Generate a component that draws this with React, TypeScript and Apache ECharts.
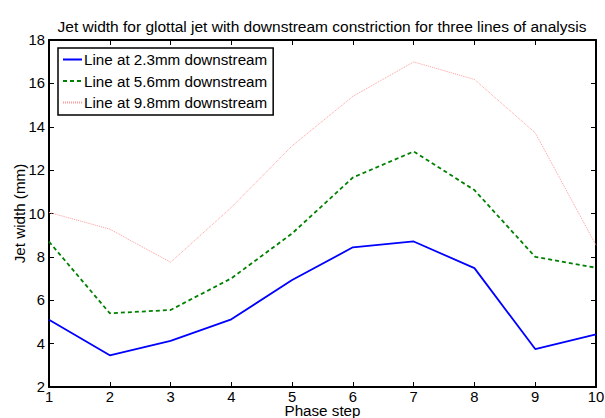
import React, { useEffect, useRef } from "react";
import * as echarts from "echarts";

const phaseSteps = ["1", "2", "3", "4", "5", "6", "7", "8", "9", "10"];
const line23 = [5.1, 3.46, 4.13, 5.12, 6.93, 8.44, 8.71, 7.48, 3.75, 4.43];
const line56 = [8.7, 5.4, 5.55, 7.01, 9.08, 11.66, 12.86, 11.08, 8.0, 7.5];
const line98 = [10.05, 9.28, 7.75, 10.28, 13.12, 15.4, 16.99, 16.18, 13.72, 8.54];
const seriesNames = [
  "Line at 2.3mm downstream",
  "Line at 5.6mm downstream",
  "Line at 9.8mm downstream",
];

const FONT = "Liberation Sans, Arial, Helvetica, sans-serif";

export default function App() {
  const ref = useRef<HTMLDivElement>(null);
  useEffect(() => {
    if (!ref.current) return;
    const chart = echarts.init(ref.current, null, { renderer: "svg" });
    const axisLine = { show: true, lineStyle: { color: "#000", width: 2 } };
    const tick = { show: true, inside: true, length: 5, lineStyle: { color: "#000", width: 1 } };
    chart.setOption({
      animation: false,
      backgroundColor: "#fff",
      title: {
        text: "Jet width for glottal jet with downstream constriction for three lines of analysis",
        left: 317,
        textAlign: "center",
        top: 13,
        textStyle: { fontFamily: FONT, fontSize: 15.5, fontWeight: "normal", color: "#000" },
      },
      legend: {
        orient: "vertical",
        left: 58,
        top: 48,
        padding: [4, 6, 5, 4],
        itemGap: 6.5,
        itemWidth: 19,
        itemHeight: 15,
        borderColor: "#000",
        borderWidth: 1.5,
        backgroundColor: "#fff",
        itemStyle: { opacity: 0 },
        textStyle: { fontFamily: FONT, fontSize: 15.2, color: "#000", padding: [0, 0, 0, -3] },
        data: seriesNames,
      },
      grid: { left: 49, right: 9, top: 40, bottom: 31, containLabel: false, outerBoundsMode: "none" },
      xAxis: [
        {
          type: "value",
          min: 1,
          max: 10,
          interval: 1,
          name: "Phase step",
          nameLocation: "middle",
          nameGap: 16,
          nameMoveOverlap: false,
          nameTextStyle: { fontFamily: FONT, fontSize: 15.2, color: "#000", lineHeight: 14 },
          axisLine,
          axisTick: tick,
          splitLine: { show: false },
          axisLabel: { fontFamily: FONT, fontSize: 14.8, color: "#000", margin: 4, lineHeight: 12 },
        },
        {
          type: "value",
          position: "top",
          min: 1,
          max: 10,
          interval: 1,
          axisLine,
          axisTick: tick,
          splitLine: { show: false },
          axisLabel: { show: false },
        },
      ],
      yAxis: [
        {
          type: "value",
          min: 2,
          max: 18,
          interval: 2,
          name: "Jet width (mm)",
          nameLocation: "middle",
          nameGap: 22,
          nameMoveOverlap: false,
          nameTextStyle: { fontFamily: FONT, fontSize: 15.2, color: "#000" },
          axisLine,
          axisTick: tick,
          splitLine: { show: false },
          axisLabel: { fontFamily: FONT, fontSize: 14.8, color: "#000", margin: 4 },
        },
        {
          type: "value",
          position: "right",
          min: 2,
          max: 18,
          interval: 2,
          axisLine,
          axisTick: tick,
          splitLine: { show: false },
          axisLabel: { show: false },
        },
      ],
      series: [
        {
          name: seriesNames[0],
          type: "line",
          symbol: "none",
          data: phaseSteps.map((s, i) => [Number(s), line23[i]]),
          lineStyle: { color: "#0000ff", width: 1.8, type: "solid" },
          itemStyle: { color: "#0000ff" },
        },
        {
          name: seriesNames[1],
          type: "line",
          symbol: "none",
          data: phaseSteps.map((s, i) => [Number(s), line56[i]]),
          lineStyle: { color: "#008000", width: 1.8, type: [4, 3] },
          itemStyle: { color: "#008000" },
        },
        {
          name: seriesNames[2],
          type: "line",
          symbol: "none",
          data: phaseSteps.map((s, i) => [Number(s), line98[i]]),
          lineStyle: { color: "#ff9a9a", width: 1, type: [1, 1] },
          itemStyle: { color: "#ff9a9a" },
        },
      ],
    });
    return () => chart.dispose();
  }, []);
  return <div ref={ref} style={{ width: 605, height: 418, position: "fixed", left: 0, top: 0 }} />;
}
